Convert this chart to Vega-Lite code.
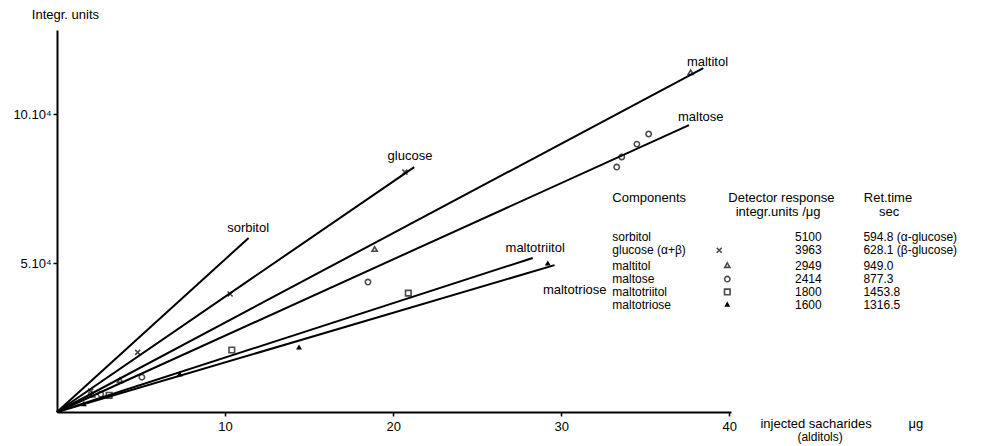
{
  "$schema": "https://vega.github.io/schema/vega-lite/v6.json",
  "autosize": "none",
  "width": 674,
  "height": 382,
  "padding": {"left": 57, "top": 30, "right": 275, "bottom": 34},
  "background": "white",
  "config": {
    "view": {"stroke": null},
    "font": "Liberation Sans",
    "axis": {"grid": false, "domainColor": "black", "domainWidth": 2, "tickColor": "black", "labelColor": "black", "labelFont": "Liberation Sans", "labelFontSize": 13}
  },
  "datasets": {
    "lines": [
      {"series": "sorbitol", "x": 0, "y": 0}, {"series": "sorbitol", "x": 11.4, "y": 58400},
      {"series": "glucose", "x": 0, "y": 0}, {"series": "glucose", "x": 21.25, "y": 82200},
      {"series": "maltitol", "x": 0, "y": 0}, {"series": "maltitol", "x": 38.45, "y": 115400},
      {"series": "maltose", "x": 0, "y": 0}, {"series": "maltose", "x": 37.6, "y": 96300},
      {"series": "maltotriitol", "x": 0, "y": 0}, {"series": "maltotriitol", "x": 28.3, "y": 51700},
      {"series": "maltotriose", "x": 0, "y": 0}, {"series": "maltotriose", "x": 29.6, "y": 49300}
    ],
    "markers": [
      {"kind": "dot", "x": 2.4, "y": 13400},
      {"kind": "dot", "x": 1.3, "y": 6400},
      {"kind": "x", "x": 4.8, "y": 20000},
      {"kind": "x", "x": 10.3, "y": 39600},
      {"kind": "x", "x": 20.7, "y": 80500},
      {"kind": "x", "x": 2.0, "y": 7000},
      {"kind": "tri", "x": 3.75, "y": 10700},
      {"kind": "tri", "x": 18.9, "y": 54700},
      {"kind": "tri", "x": 37.7, "y": 114000},
      {"kind": "tri", "x": 2.1, "y": 5800},
      {"kind": "circ", "x": 5.05, "y": 11700},
      {"kind": "circ", "x": 2.6, "y": 6000},
      {"kind": "circ", "x": 18.5, "y": 43600},
      {"kind": "circ", "x": 33.3, "y": 82200},
      {"kind": "circ", "x": 33.6, "y": 85600},
      {"kind": "circ", "x": 34.5, "y": 89900},
      {"kind": "circ", "x": 35.2, "y": 93300},
      {"kind": "sq", "x": 3.1, "y": 5600},
      {"kind": "sq", "x": 10.4, "y": 20800},
      {"kind": "sq", "x": 20.9, "y": 39900},
      {"kind": "ftri", "x": 1.6, "y": 2800},
      {"kind": "ftri", "x": 7.3, "y": 12800},
      {"kind": "ftri", "x": 14.4, "y": 21800},
      {"kind": "ftri", "x": 29.2, "y": 50000},
      {"kind": "dot", "x": 39.88, "y": 58700},
      {"kind": "x", "x": 39.4, "y": 54300},
      {"kind": "tri", "x": 39.88, "y": 49300},
      {"kind": "circ", "x": 39.88, "y": 44600},
      {"kind": "sq", "x": 39.88, "y": 40300},
      {"kind": "ftri", "x": 39.88, "y": 36200}
    ],
    "texts": [
      {"anchor": "center", "size": "l", "x": 0.5, "y": 133200, "text": "Integr. units"},
      {"anchor": "center", "size": "l", "x": 11.37, "y": 61700, "text": "sorbitol"},
      {"anchor": "center", "size": "l", "x": 21.0, "y": 85900, "text": "glucose"},
      {"anchor": "center", "size": "l", "x": 38.7, "y": 117450, "text": "maltitol"},
      {"anchor": "center", "size": "l", "x": 38.3, "y": 99000, "text": "maltose"},
      {"anchor": "center", "size": "l", "x": 28.45, "y": 55000, "text": "maltotriitol"},
      {"anchor": "center", "size": "l", "x": 30.8, "y": 40900, "text": "maltotriose"},
      {"anchor": "left", "size": "l", "x": 41.85, "y": -4000, "text": "injected sacharides"},
      {"anchor": "center", "size": "l", "x": 51.1, "y": -4000, "text": "μg"},
      {"anchor": "center", "size": "s", "x": 45.4, "y": -8400, "text": "(alditols)"},
      {"anchor": "left", "size": "l", "x": 33.04, "y": 71812, "text": "Components"},
      {"anchor": "center", "size": "l", "x": 43.1, "y": 71812, "text": "Detector response"},
      {"anchor": "center", "size": "l", "x": 42.9, "y": 67000, "text": "integr.units /μg"},
      {"anchor": "left", "size": "l", "x": 48.0, "y": 71812, "text": "Ret.time"},
      {"anchor": "left", "size": "l", "x": 48.9, "y": 67000, "text": "sec"},
      {"anchor": "left", "size": "s", "x": 33.04, "y": 58700, "text": "sorbitol"},
      {"anchor": "left", "size": "s", "x": 33.04, "y": 54300, "text": "glucose (α+β)"},
      {"anchor": "left", "size": "s", "x": 33.04, "y": 49000, "text": "maltitol"},
      {"anchor": "left", "size": "s", "x": 33.04, "y": 44600, "text": "maltose"},
      {"anchor": "left", "size": "s", "x": 33.04, "y": 40300, "text": "maltotriitol"},
      {"anchor": "left", "size": "s", "x": 33.04, "y": 35900, "text": "maltotriose"},
      {"anchor": "center", "size": "s", "x": 44.7, "y": 58700, "text": "5100"},
      {"anchor": "center", "size": "s", "x": 44.7, "y": 54300, "text": "3963"},
      {"anchor": "center", "size": "s", "x": 44.7, "y": 49000, "text": "2949"},
      {"anchor": "center", "size": "s", "x": 44.7, "y": 44600, "text": "2414"},
      {"anchor": "center", "size": "s", "x": 44.7, "y": 40300, "text": "1800"},
      {"anchor": "center", "size": "s", "x": 44.7, "y": 35900, "text": "1600"},
      {"anchor": "left", "size": "s", "x": 47.98, "y": 58700, "text": "594.8 (α-glucose)"},
      {"anchor": "left", "size": "s", "x": 47.98, "y": 54300, "text": "628.1 (β-glucose)"},
      {"anchor": "left", "size": "s", "x": 47.98, "y": 49000, "text": "949.0"},
      {"anchor": "left", "size": "s", "x": 47.98, "y": 44600, "text": "877.3"},
      {"anchor": "left", "size": "s", "x": 47.98, "y": 40300, "text": "1453.8"},
      {"anchor": "left", "size": "s", "x": 47.98, "y": 35900, "text": "1316.5"}
    ]
  },
  "layer": [
    {
      "data": {"name": "lines"},
      "mark": {"type": "line", "color": "black", "strokeWidth": 2},
      "encoding": {
        "x": {"field": "x", "type": "quantitative", "scale": {"domain": [0, 40.1], "nice": false, "zero": false},
              "axis": {"values": [10, 20, 30, 40], "title": null, "tickSize": 4, "tickWidth": 1.5, "labelPadding": 4, "labelFontSize": 13}},
        "y": {"field": "y", "type": "quantitative", "scale": {"domain": [0, 128200], "nice": false, "zero": false},
              "axis": {"values": [50000, 100000], "title": null, "tickSize": 4, "tickWidth": 1.5, "labelPadding": 2, "labelFontSize": 13,
                       "labelExpr": "datum.value == 50000 ? '5.10⁴' : '10.10⁴'"}},
        "detail": {"field": "series"}
      }
    },
    {
      "data": {"name": "markers"},
      "transform": [{"filter": "indexof(['x','tri','circ','sq'], datum.kind) >= 0"}],
      "mark": {"type": "point", "filled": false, "stroke": "black", "strokeWidth": 1.6},
      "encoding": {
        "x": {"field": "x", "type": "quantitative"},
        "y": {"field": "y", "type": "quantitative"},
        "shape": {"field": "kind", "type": "nominal", "legend": null,
                  "scale": {"domain": ["x", "tri", "circ", "sq"], "range": ["M-1,-1L1,1M-1,1L1,-1", "triangle-up", "circle", "square"]}},
        "size": {"field": "kind", "type": "nominal", "legend": null,
                 "scale": {"domain": ["x", "tri", "circ", "sq"], "range": [25, 35, 30, 28]}}
      }
    },
    {
      "data": {"name": "markers"},
      "transform": [{"filter": "indexof(['dot','ftri'], datum.kind) >= 0"}],
      "mark": {"type": "point", "filled": true, "color": "black", "opacity": 1},
      "encoding": {
        "x": {"field": "x", "type": "quantitative"},
        "y": {"field": "y", "type": "quantitative"},
        "shape": {"field": "kind", "type": "nominal", "legend": null,
                  "scale": {"domain": ["dot", "ftri"], "range": ["circle", "triangle-up"]}},
        "size": {"field": "kind", "type": "nominal", "legend": null,
                 "scale": {"domain": ["dot", "ftri"], "range": [12, 40]}}
      }
    },
    {
      "data": {"name": "texts"},
      "transform": [{"filter": "datum.anchor == 'left' && datum.size == 's'"}],
      "mark": {"type": "text", "align": "left", "baseline": "middle", "color": "black", "fontSize": 12},
      "encoding": {
        "x": {"field": "x", "type": "quantitative"},
        "y": {"field": "y", "type": "quantitative"},
        "text": {"field": "text"}
      }
    },
    {
      "data": {"name": "texts"},
      "transform": [{"filter": "datum.anchor == 'left' && datum.size == 'l'"}],
      "mark": {"type": "text", "align": "left", "baseline": "middle", "color": "black", "fontSize": 13},
      "encoding": {
        "x": {"field": "x", "type": "quantitative"},
        "y": {"field": "y", "type": "quantitative"},
        "text": {"field": "text"}
      }
    },
    {
      "data": {"name": "texts"},
      "transform": [{"filter": "datum.anchor == 'center' && datum.size == 's'"}],
      "mark": {"type": "text", "align": "center", "baseline": "middle", "color": "black", "fontSize": 12},
      "encoding": {
        "x": {"field": "x", "type": "quantitative"},
        "y": {"field": "y", "type": "quantitative"},
        "text": {"field": "text"}
      }
    },
    {
      "data": {"name": "texts"},
      "transform": [{"filter": "datum.anchor == 'center' && datum.size == 'l'"}],
      "mark": {"type": "text", "align": "center", "baseline": "middle", "color": "black", "fontSize": 13},
      "encoding": {
        "x": {"field": "x", "type": "quantitative"},
        "y": {"field": "y", "type": "quantitative"},
        "text": {"field": "text"}
      }
    }
  ]
}
